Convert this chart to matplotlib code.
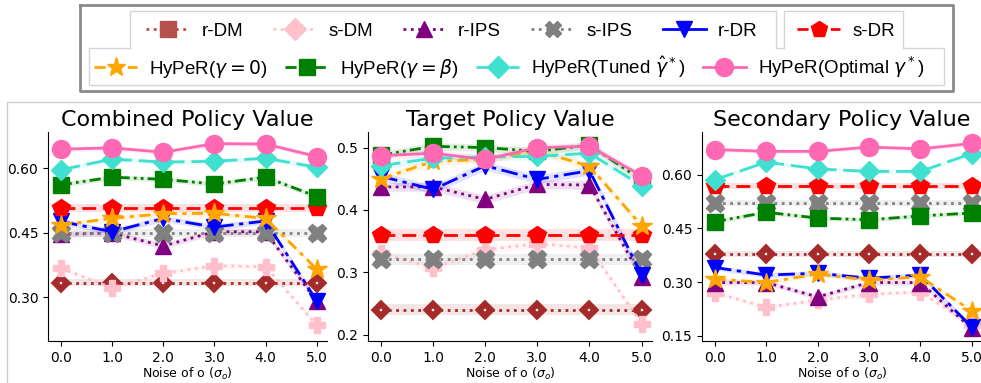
"""
Three panels of policy value vs. noise of o, with a boxed legend on top.
"""
import matplotlib

matplotlib.use("Agg")
import matplotlib.pyplot as plt
from matplotlib.lines import Line2D

W, H = 981, 383

noise = [0.0, 1.0, 2.0, 3.0, 4.0, 5.0]
methods = ["r-DM", "s-DM", "r-IPS", "s-IPS", "r-DR", "s-DR",
           "HyPeR0", "HyPeRbeta", "HyPeRtuned", "HyPeRopt"]
labels = ["r-DM", "s-DM", "r-IPS", "s-IPS", "r-DR", "s-DR",
          r"HyPeR($\gamma=0$)", r"HyPeR($\gamma=\beta$)",
          r"HyPeR(Tuned $\hat{\gamma}^*$)", r"HyPeR(Optimal $\gamma^*$)"]

combined = {
    "r-DM": [0.334, 0.334, 0.334, 0.334, 0.334, 0.334],
    "s-DM": [0.367, 0.322, 0.355, 0.373, 0.371, 0.235],
    "r-IPS": [0.446, 0.449, 0.419, 0.452, 0.452, 0.290],
    "s-IPS": [0.450, 0.450, 0.450, 0.450, 0.450, 0.450],
    "r-DR": [0.476, 0.452, 0.483, 0.463, 0.477, 0.291],
    "s-DR": [0.507, 0.507, 0.507, 0.507, 0.507, 0.507],
    "HyPeR0": [0.468, 0.483, 0.494, 0.495, 0.483, 0.365],
    "HyPeRbeta": [0.561, 0.579, 0.574, 0.563, 0.579, 0.534],
    "HyPeRtuned": [0.596, 0.621, 0.614, 0.616, 0.623, 0.602],
    "HyPeRopt": [0.644, 0.647, 0.637, 0.657, 0.656, 0.627],
}
target = {
    "r-DM": [0.240, 0.240, 0.240, 0.240, 0.240, 0.240],
    "s-DM": [0.331, 0.307, 0.336, 0.346, 0.339, 0.218],
    "r-IPS": [0.437, 0.437, 0.417, 0.441, 0.440, 0.292],
    "s-IPS": [0.321, 0.321, 0.321, 0.321, 0.321, 0.321],
    "r-DR": [0.454, 0.433, 0.471, 0.449, 0.463, 0.296],
    "s-DR": [0.360, 0.360, 0.360, 0.360, 0.360, 0.360],
    "HyPeR0": [0.450, 0.478, 0.481, 0.495, 0.470, 0.375],
    "HyPeRbeta": [0.488, 0.502, 0.500, 0.494, 0.504, 0.448],
    "HyPeRtuned": [0.471, 0.483, 0.485, 0.486, 0.491, 0.439],
    "HyPeRopt": [0.487, 0.491, 0.481, 0.500, 0.502, 0.455],
}
secondary = {
    "r-DM": [0.378, 0.378, 0.378, 0.378, 0.378, 0.378],
    "s-DM": [0.271, 0.230, 0.250, 0.266, 0.273, 0.180],
    "r-IPS": [0.299, 0.299, 0.259, 0.299, 0.299, 0.171],
    "s-IPS": [0.521, 0.521, 0.521, 0.521, 0.521, 0.521],
    "r-DR": [0.341, 0.320, 0.325, 0.311, 0.320, 0.175],
    "s-DR": [0.569, 0.569, 0.569, 0.569, 0.569, 0.569],
    "HyPeR0": [0.309, 0.299, 0.323, 0.306, 0.315, 0.220],
    "HyPeRbeta": [0.469, 0.495, 0.479, 0.474, 0.485, 0.493],
    "HyPeRtuned": [0.586, 0.635, 0.616, 0.609, 0.609, 0.659],
    "HyPeRopt": [0.670, 0.665, 0.665, 0.677, 0.672, 0.687],
}
# half-width of the shaded band around each line
band = {"r-DM": 0.009, "s-DM": 0.007, "r-IPS": 0.007, "s-IPS": 0.009,
        "r-DR": 0.007, "s-DR": 0.009, "HyPeR0": 0.006, "HyPeRbeta": 0.006,
        "HyPeRtuned": 0.006, "HyPeRopt": 0.006}

STYLE = {
    "r-DM": dict(color="brown", ls=":", marker="D", ms=6, mfc="white", mec="brown", mew=4.5),
    "s-DM": dict(color="pink", ls=":", marker="P", ms=12),
    "r-IPS": dict(color="purple", ls=":", marker="^", ms=12),
    "s-IPS": dict(color="gray", ls=":", marker="X", ms=13),
    "r-DR": dict(color="blue", ls=(0, (6, 2, 1.5, 2)), marker="v", ms=12),
    "s-DR": dict(color="red", ls=(0, (5, 2.5)), marker="p", ms=13),
    "HyPeR0": dict(color="orange", ls=(0, (4, 2, 1.5, 2)), marker="*", ms=15),
    "HyPeRbeta": dict(color="green", ls=(0, (4, 1.5, 1, 1.5, 1, 1.5)), marker="s", ms=11),
    "HyPeRtuned": dict(color="turquoise", ls=(0, (7, 2.5)), marker="D", ms=10),
    "HyPeRopt": dict(color="hotpink", ls="-", marker="o", ms=13),
}
LEGEND_STYLE = {
    "r-DM": dict(color="#b5514c", ls=":", marker="s", ms=11),
    "s-DM": dict(color="pink", ls=":", marker="D", ms=11),
    "r-IPS": dict(color="purple", ls=":", marker="^", ms=12),
    "s-IPS": dict(color="gray", ls=":", marker="X", ms=12),
    "r-DR": dict(color="blue", ls="-", marker="v", ms=12),
    "s-DR": dict(color="red", ls=(0, (4, 2)), marker="p", ms=12),
    "HyPeR0": dict(color="orange", ls=(0, (4, 2)), marker="*", ms=14),
    "HyPeRbeta": dict(color="green", ls=(0, (4, 1.5, 1, 1.5, 1, 1.5)), marker="s", ms=11),
    "HyPeRtuned": dict(color="turquoise", ls=(0, (4, 2)), marker="D", ms=11),
    "HyPeRopt": dict(color="hotpink", ls="-", marker="o", ms=13),
}

panels = [
    ("Combined Policy Value", combined, [0.30, 0.45, 0.60], "%.2f", (0.198, 0.684), (48, 327)),
    ("Target Policy Value", target, [0.2, 0.3, 0.4, 0.5], "%.1f", (0.190, 0.525), (368, 652)),
    ("Secondary Policy Value", secondary, [0.15, 0.30, 0.45, 0.60], "%.2f", (0.136, 0.719), (702, 982)),
]

fig = plt.figure(figsize=(W / 100, H / 100), dpi=100)


def fx(px):
    return px / W


def fy(py):
    return 1 - py / H


for title, data, yticks, fmt, ylim, (x0, x1) in panels:
    ax = fig.add_axes([fx(x0), fy(341), fx(x1 - x0), (341 - 132) / H])
    for m in methods:
        vals = data[m]
        st = STYLE[m]
        ax.fill_between(noise, [v - band[m] for v in vals], [v + band[m] for v in vals],
                        color=st["color"], alpha=0.12, lw=0)
        ax.plot(noise, vals, lw=2, **st)
    ax.set_xlim(-0.25, 5.2)
    ax.set_ylim(*ylim)
    ax.set_xticks(noise)
    ax.set_xticklabels(["%.1f" % v for v in noise])
    ax.set_yticks(yticks)
    ax.set_yticklabels([fmt % v for v in yticks])
    ax.tick_params(labelsize=10)
    ax.spines["top"].set_visible(False)
    ax.spines["right"].set_visible(False)
    ax.set_title(title, fontsize=16, pad=4)
    ax.set_xlabel(r"Noise of o ($\sigma_o$)", fontsize=9, labelpad=1)

# legend entries
handles = {m: Line2D([], [], lw=2, **LEGEND_STYLE[m]) for m in methods}
lab = dict(zip(methods, labels))
leg_kw = dict(frameon=False, borderpad=0, borderaxespad=0, handlelength=2.3,
              handletextpad=0.65, prop={"family": "Liberation Sans", "size": 13.5})
row1 = methods[:5]
fig.legend([handles[m] for m in row1], [lab[m] for m in row1], ncol=5,
           loc="center left", bbox_to_anchor=(fx(146), fy(31)),
           columnspacing=1.6, **leg_kw)
fig.legend([handles["s-DR"]], [lab["s-DR"]], loc="center left",
           bbox_to_anchor=(fx(797), fy(31)), **leg_kw)
row2 = methods[6:]
fig.legend([handles[m] for m in row2], [lab[m] for m in row2], ncol=4,
           loc="center left", bbox_to_anchor=(fx(94), fy(67)),
           columnspacing=0.9, **leg_kw)


def frame_line(xs, ys, color, lw):
    fig.add_artist(Line2D([fx(v) for v in xs], [fy(v) for v in ys],
                          color=color, lw=lw, transform=fig.transFigure))


# legend boxes
frame_line([80, 953, 953, 80, 80], [5, 5, 91, 91, 5], "#8a8a8a", 2)
inner = "#d6d6d6"
frame_line([130, 130, 776, 776], [48, 11, 11, 48], inner, 1)
frame_line([784, 784, 903, 903], [48, 11, 11, 48], inner, 1)
frame_line([130, 89, 89, 944, 944, 903], [48, 48, 85, 85, 48, 48], inner, 1)
frame_line([776, 784], [48, 48], inner, 1)
# outer border of the plot area
frame_line([7, 7, 981], [383, 102, 102], "#cccccc", 1)

fig.savefig("out.png", dpi=100)
